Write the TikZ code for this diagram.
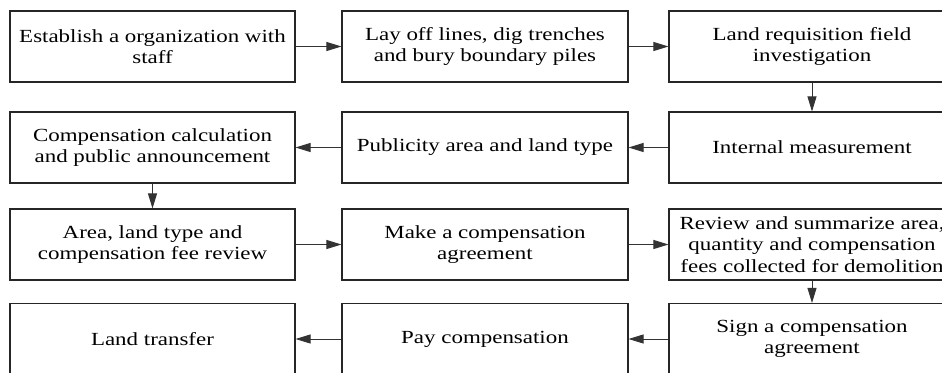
\documentclass[tikz,border=0pt]{standalone}
\usepackage{fontspec}
\setmainfont{Liberation Serif}[FakeStretch=1.24]
\usetikzlibrary{arrows.meta}
\tikzset{
  stepbox/.style={draw=black!85, line width=1.1pt, minimum width=286pt, minimum height=71pt,
    inner sep=0pt, align=center, font=\fontsize{18.5pt}{21.5pt}\selectfont},
  flow/.style={draw=black!80, line width=0.9pt, -{Triangle[length=15pt,width=9pt]}}
}
\begin{document}
\begin{tikzpicture}[x=1pt,y=-1pt]
\clip (0,0) rectangle (942,372);
\fill[white] (0,0) rectangle (942,372);
\node[stepbox, minimum width=285pt] (a1) at (152.5,46.5) {Establish a organization with\\staff};
\node[stepbox] (a2) at (485,46.5) {Lay off lines, dig trenches\\and bury boundary piles};
\node[stepbox] (a3) at (812,46.5) {Land requisition field\\investigation};
\node[stepbox, minimum width=285pt] (b1) at (152.5,147.5) {Compensation calculation\\and public announcement};
\node[stepbox] (b2) at (485,147.5) {Publicity area and land type};
\node[stepbox] (b3) at (812,147.5) {Internal measurement};
\node[stepbox, minimum width=285pt] (c1) at (152.5,244.5) {Area, land type and\\compensation fee review};
\node[stepbox] (c2) at (485,244.5) {Make a compensation\\agreement};
\node[stepbox] (c3) at (812,244.5) {Review and summarize area,\\quantity and compensation\\fees collected for demolition};
\node[stepbox, minimum width=285pt] (d1) at (152.5,339) {Land transfer};
\node[stepbox] (d2) at (485,339) {Pay compensation};
\node[stepbox] (d3) at (812,339) {Sign a compensation\\agreement};
\draw[flow] (a1) -- (a2);
\draw[flow] (a2) -- (a3);
\draw[flow] (a3) -- (b3);
\draw[flow] (b3) -- (b2);
\draw[flow] (b2) -- (b1);
\draw[flow] (b1) -- (c1);
\draw[flow] (c1) -- (c2);
\draw[flow] (c2) -- (c3);
\draw[flow] (c3) -- (d3);
\draw[flow] (d3) -- (d2);
\draw[flow] (d2) -- (d1);
\end{tikzpicture}
\end{document}
